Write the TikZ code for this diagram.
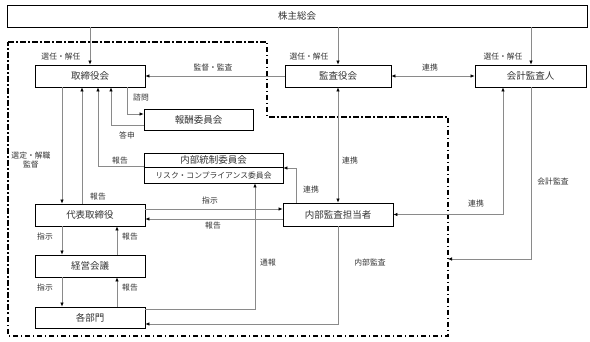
\documentclass[tikz,border=0pt]{standalone}
\usepackage{fontspec}
\setmainfont{Noto Sans CJK JP}
\usetikzlibrary{arrows.meta,calc}
\definecolor{lg}{HTML}{8A8A8A}
\definecolor{tx}{HTML}{333333}
\begin{document}
\begin{tikzpicture}[x=1pt,y=-1pt,
  box/.style={draw=black,line width=0.8pt,fill=white,inner sep=0pt,font=\fontsize{9.5}{10}\selectfont,text=tx},
  lbl/.style={font=\fontsize{7.8}{9}\selectfont,text=tx,inner sep=0pt},
  con/.style={draw=lg,line width=0.7pt},
  ar/.style={con,-{Latex[length=4pt,width=3.6pt,color=black]}},
  ar2/.style={con,{Latex[length=4pt,width=3.6pt,color=black]}-{Latex[length=4pt,width=3.6pt,color=black]}},
  bound/.style={draw=black,line width=1.3pt,dash pattern=on 5.5pt off 2.5pt on 1.5pt off 2.5pt}]
\useasboundingbox (0,0) rectangle (590,342);
% boundary
\draw[bound] (8,42) -- (267,42) -- (267,117) -- (448,117) -- (448,336) -- (8,336) -- cycle;
% nodes
\node[box,minimum width=580pt,minimum height=22pt] (sh) at (297,16) {株主総会};
\node[box,minimum width=110pt,minimum height=22pt] (tb) at (90,76) {取締役会};
\node[box,minimum width=106pt,minimum height=22pt] (ka) at (338,76) {監査役会};
\node[box,minimum width=111pt,minimum height=22pt] (kk) at (530.5,76) {会計監査人};
\node[box,minimum width=109pt,minimum height=21pt] (hs) at (198.5,119.5) {報酬委員会};
\node[box,minimum width=139pt,minimum height=30pt] (nt) at (213.5,168) {};
\node[box,draw=none,fill=none] (ntt) at (213.5,160) {内部統制委員会};
\node[box,draw=none,fill=none,font=\fontsize{7.8}{8}\selectfont] (ntb) at (213.5,175.5) {リスク・コンプライアンス委員会};
\draw[line width=0.6pt] (nt.west |- 0,167) -- (nt.east |- 0,167);
\node[box,minimum width=110pt,minimum height=22pt] (dt) at (90,215) {代表取締役};
\node[box,minimum width=110pt,minimum height=23pt] (na) at (338,214.5) {内部監査担当者};
\node[box,minimum width=110pt,minimum height=22pt] (kb) at (90,266) {経営会議};
\node[box,minimum width=110pt,minimum height=21pt] (bm) at (90,317.5) {各部門};
\coordinate (bd) at (448,259);
% connectors from shareholders
\draw[ar] (sh.south -| tb.north) -- (tb.north);
\draw[ar] (sh.south -| ka.north) -- (ka.north);
\draw[ar] (sh.south -| 531,0) -- (kk.north -| 531,0);
\node[lbl] (l1) at (61,57) {選任・解任};
\node[lbl] (l2) at (309,57) {選任・解任};
\node[lbl] (l3) at (503,57) {選任・解任};
% 監査役会 -> 取締役会
\draw[ar] (ka.west) -- (tb.east);
\node[lbl] (l4) at (213,68) {監督・監査};
\draw[ar2] (ka.east) -- (kk.west);
\node[lbl] (l5) at (430,68) {連携};
% 諮問 / 答申
\draw[ar] (tb.south -| 127,0) |- (hs.west |- 0,114);
\node[lbl] (l6) at (141,98) {諮問};
\draw[ar] (hs.west |- 0,125) -| (tb.south -| 111,0);
\node[lbl] (l7) at (127,135) {答申};
% 内部統制委員会 report
\draw[ar] (nt.west |- 0,166) -| (tb.south -| 98,0);
\node[lbl] (l8) at (120,161) {報告};
% 代表取締役 <-> 取締役会
\draw[ar] (dt.north -| 82,0) -- (tb.south -| 82,0);
\node[lbl] (l9) at (98,197) {報告};
\draw[ar] (tb.south -| 62,0) -- (dt.north -| 62,0);
\node[lbl,align=center] (l10) at (31,160) {選定・解職\\監督};
% 代表取締役 <-> 内部監査担当者
\draw[ar] (dt.east |- 0,209) -- (na.west |- 0,209);
\node[lbl] (l11) at (210,201) {指示};
\draw[ar] (na.west |- 0,219) -- (dt.east |- 0,219);
\node[lbl] (l12) at (213,226) {報告};
% 内部監査担当者 -> 内部統制委員会
\draw[ar] (na.north -| 296,0) |- (nt.east |- 0,168);
\node[lbl] (l13) at (311,190) {連携};
% 監査役会 <-> 内部監査担当者
\draw[ar2] (ka.south) -- (na.north);
\node[lbl] (l14) at (350,161) {連携};
% 内部監査担当者 <-> 会計監査人
\draw[ar2] (na.east) -| (kk.south -| 503,0);
\node[lbl] (l15) at (476,204) {連携};
% 会計監査
\draw[ar] (kk.south -| 531,0) |- (bd);
\node[lbl] (l16) at (553,182) {会計監査};
% 代表取締役 <-> 経営会議
\draw[ar] (dt.south -| 62,0) -- (kb.north -| 62,0);
\node[lbl] (l17) at (45,237) {指示};
\draw[ar] (kb.north -| 117,0) -- (dt.south -| 117,0);
\node[lbl] (l18) at (130,237) {報告};
% 経営会議 <-> 各部門
\draw[ar] (kb.south -| 62,0) -- (bm.north -| 62,0);
\node[lbl] (l19) at (45,288) {指示};
\draw[ar] (bm.north -| 117,0) -- (kb.south -| 117,0);
\node[lbl] (l20) at (130,288) {報告};
% 通報
\draw[ar] (bm.east |- 0,309) -| (nt.south -| 255,0);
\node[lbl] (l21) at (268,263) {通報};
% 内部監査
\draw[ar] (na.south) |- (bm.east |- 0,324);
\node[lbl] (l22) at (370,263) {内部監査};
\end{tikzpicture}
\end{document}
